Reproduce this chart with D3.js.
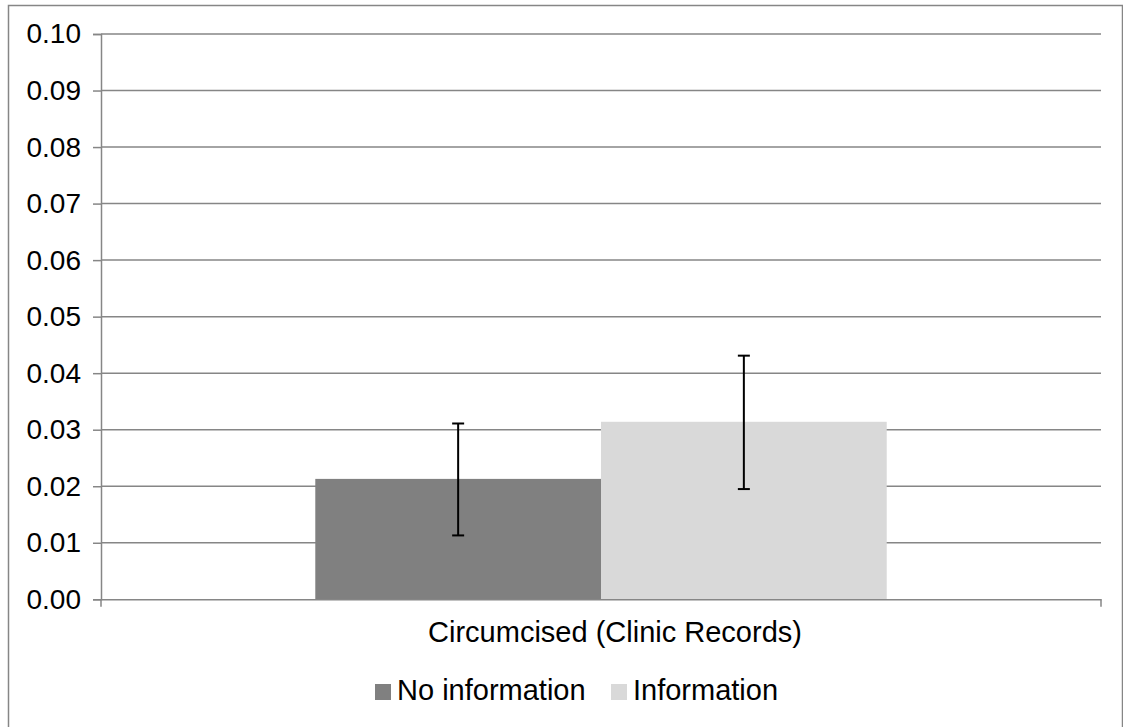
<!DOCTYPE html>
<html>
<head>
<meta charset="utf-8">
<script src="https://cdn.jsdelivr.net/npm/d3@7"></script>
<style>
  html, body { margin: 0; padding: 0; background: #fff; }
  svg { display: block; font-family: "Liberation Sans", Arial, sans-serif; }
</style>
</head>
<body>
<svg id="chart" width="1123" height="727"></svg>
<script>
const categories = ["Circumcised (Clinic Records)"];
const seriesNames = ["No information", "Information"];
const seriesColors = ["#808080", "#D9D9D9"];
const values = [0.0213, 0.0314];
const errLow = [0.0113, 0.0195];
const errHigh = [0.0311, 0.0431];
const yTicks = [0, 0.01, 0.02, 0.03, 0.04, 0.05, 0.06, 0.07, 0.08, 0.09, 0.10];

(function () {
const svg = d3.select("#chart");
const gridColor = "#868686";

svg.append("rect")
  .attr("x", 8.5).attr("y", 5.5)
  .attr("width", 1114).attr("height", 730)
  .attr("fill", "none").attr("stroke", gridColor).attr("stroke-width", 1.5);

const pLeft = 101, pRight = 1101, pTop = 34, pBottom = 599.3;

const y = d3.scaleLinear().domain([0, 0.1]).range([pBottom, pTop]);
const x = d3.scaleBand().domain(categories).range([pLeft, pRight]).paddingInner(0).paddingOuter(0);

const gapRatio = 1.5;
const barW = x.bandwidth() / (seriesNames.length + gapRatio);
const xs = d3.scaleBand().domain(seriesNames)
  .range([barW * gapRatio / 2, barW * gapRatio / 2 + barW * seriesNames.length]);

svg.append("g").selectAll("line").data(yTicks.slice(1)).join("line")
  .attr("x1", pLeft).attr("x2", pRight)
  .attr("y1", d => y(d)).attr("y2", d => y(d))
  .attr("stroke", gridColor).attr("stroke-width", 1.5);

const gBars = svg.append("g");
categories.forEach(cat => {
  seriesNames.forEach((s, i) => {
    gBars.append("rect")
      .attr("x", x(cat) + xs(s))
      .attr("y", y(values[i]))
      .attr("width", xs.bandwidth())
      .attr("height", y(0) - y(values[i]))
      .attr("fill", seriesColors[i]);
  });
});

const yAxis = d3.axisLeft(y).tickValues(yTicks).tickFormat(d3.format(".2f")).tickSize(8).tickPadding(12);
const gy = svg.append("g").attr("transform", `translate(${pLeft},0)`).call(yAxis);
gy.select(".domain").attr("stroke", gridColor).attr("stroke-width", 1.5);
gy.selectAll(".tick line").attr("stroke", gridColor).attr("stroke-width", 1.5);
gy.selectAll(".tick text").attr("font-size", 28).attr("fill", "#000")
  .attr("font-family", "'Liberation Sans', Arial, sans-serif");

const xAxis = d3.axisBottom(x).tickValues([]).tickSize(0);
const gx = svg.append("g").attr("transform", `translate(0,${pBottom})`).call(xAxis);
gx.select(".domain").attr("stroke", gridColor).attr("stroke-width", 1.5);
gx.selectAll(".edge").data([pLeft, pRight]).join("line").attr("class", "edge")
  .attr("x1", d => d).attr("x2", d => d).attr("y1", 0).attr("y2", 7.5)
  .attr("stroke", gridColor).attr("stroke-width", 1.5);

svg.append("g").selectAll("text").data(categories).join("text")
  .attr("x", d => x(d) + x.bandwidth() / 2 + 14)
  .attr("y", 642)
  .attr("text-anchor", "middle")
  .attr("font-size", 29)
  .attr("fill", "#000")
  .text(d => d);

const gErr = svg.append("g").attr("stroke", "#000").attr("stroke-width", 2);
categories.forEach(cat => {
  seriesNames.forEach((s, i) => {
    const cx = x(cat) + xs(s) + xs.bandwidth() / 2;
    gErr.append("line").attr("x1", cx).attr("x2", cx).attr("y1", y(errHigh[i])).attr("y2", y(errLow[i]));
    gErr.append("line").attr("x1", cx - 6).attr("x2", cx + 6).attr("y1", y(errHigh[i])).attr("y2", y(errHigh[i]));
    gErr.append("line").attr("x1", cx - 6).attr("x2", cx + 6).attr("y1", y(errLow[i])).attr("y2", y(errLow[i]));
  });
});

const legendX = [375, 611];
const gLeg = svg.append("g");
seriesNames.forEach((s, i) => {
  gLeg.append("rect").attr("x", legendX[i]).attr("y", 684).attr("width", 16).attr("height", 16)
    .attr("fill", seriesColors[i]);
  gLeg.append("text").attr("x", legendX[i] + 22).attr("y", 700)
    .attr("font-size", 29).attr("fill", "#000").text(s);
});
})();
</script>
</body>
</html>
